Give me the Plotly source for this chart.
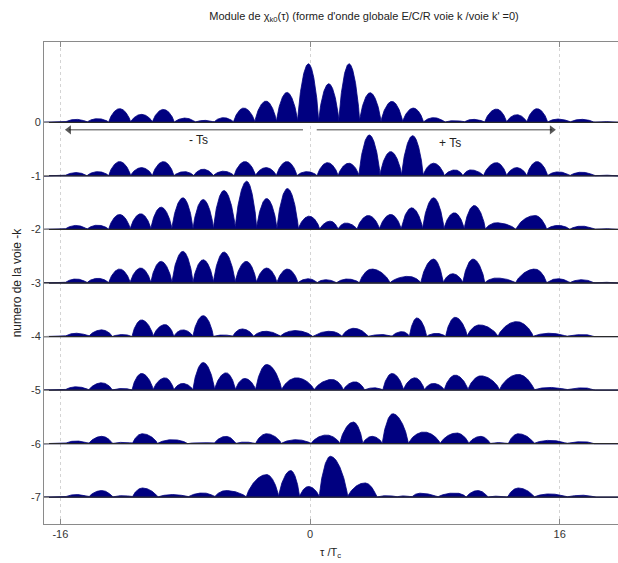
import numpy as np
import plotly.graph_objects as go

# ---- data: lobe peak positions (tau/Tc) and amplitudes for each channel row ----
rows = [0, -1, -2, -3, -4, -5, -6, -7]

tau_r0 = [-15.0, -13.6, -12.2, -10.8, -9.4, -8.0, -6.75, -5.55, -4.25, -2.82, -1.48, -0.1, 1.2, 2.5,
          3.85, 5.25, 6.62, 7.92, 9.3, 10.45, 11.95, 13.25, 14.55, 15.9, 17.4, 19.0]
amp_r0 = [0.056, 0.069, 0.255, 0.149, 0.242, 0.08, 0.037, 0.088, 0.267, 0.397, 0.559, 1.094, 0.721, 1.094,
          0.553, 0.391, 0.267, 0.088, 0.032, 0.056, 0.248, 0.143, 0.255, 0.062, 0.056, 0.013]

tau_r1 = [-15.0, -13.6, -12.2, -10.8, -9.4, -8.05, -6.85, -5.55, -4.17, -2.82, -1.48, -0.2, 1.12, 2.48,
          3.8, 5.17, 6.58, 7.92, 9.3, 10.3, 11.95, 13.25, 14.55, 15.9, 17.4, 19.0]
amp_r1 = [0.062, 0.08, 0.267, 0.155, 0.267, 0.08, 0.125, 0.088, 0.267, 0.155, 0.267, 0.08, 0.248, 0.237,
          0.764, 0.453, 0.751, 0.237, 0.112, 0.112, 0.248, 0.155, 0.267, 0.075, 0.069, 0.013]

tau_r2 = [-15.0, -13.6, -12.2, -10.85, -9.55, -8.15, -6.85, -5.52, -4.06, -2.78, -1.45, -0.05, 1.3, 2.3,
          3.74, 5.17, 6.52, 7.92, 9.25, 10.52, 11.95, 14.42, 15.9, 17.4, 19.0]
amp_r2 = [0.075, 0.08, 0.28, 0.293, 0.416, 0.591, 0.559, 0.727, 0.9, 0.578, 0.764, 0.248, 0.155, 0.12,
          0.261, 0.28, 0.404, 0.591, 0.311, 0.447, 0.125, 0.261, 0.075, 0.062, 0.013]

tau_r3 = [-15.0, -13.6, -12.2, -10.85, -9.55, -8.15, -6.85, -5.52, -4.08, -2.78, -1.45, -0.1, 1.0, 2.4,
          3.95, 6.3, 7.92, 9.15, 10.45, 11.95, 14.42, 15.9, 17.4, 19.0]
amp_r3 = [0.075, 0.088, 0.261, 0.28, 0.404, 0.591, 0.434, 0.578, 0.404, 0.28, 0.261, 0.08, 0.062, 0.075,
          0.261, 0.125, 0.447, 0.173, 0.447, 0.093, 0.261, 0.08, 0.062, 0.013]

tau_r4 = [-15.0, -13.35, -12.0, -10.8, -9.3, -8.15, -6.85, -5.55, -4.35, -2.88, -0.95, 1.3, 2.8, 4.6,
          5.9, 6.85, 8.1, 9.3, 10.85, 13.25, 15.35, 17.5]
amp_r4 = [0.062, 0.125, 0.037, 0.311, 0.224, 0.125, 0.391, 0.03, 0.143, 0.099, 0.112, 0.099, 0.155, 0.037,
          0.093, 0.348, 0.06, 0.36, 0.218, 0.28, 0.062, 0.037]

tau_r5 = [-15.0, -13.35, -12.0, -10.8, -9.3, -8.15, -6.85, -5.38, -4.18, -2.78, -0.86, 1.4, 2.88, 4.1,
          5.25, 6.73, 7.92, 9.3, 10.95, 13.35, 15.35, 17.5]
amp_r5 = [0.062, 0.137, 0.03, 0.311, 0.23, 0.125, 0.516, 0.323, 0.218, 0.479, 0.23, 0.2, 0.155, 0.043,
          0.311, 0.23, 0.125, 0.28, 0.267, 0.293, 0.05, 0.043]

tau_r6 = [-15.0, -13.35, -12.0, -10.75, -8.8, -6.9, -5.38, -4.18, -2.78, -0.9, 1.05, 2.78, 3.98, 5.3,
          7.3, 9.4, 10.95, 12.1, 13.35, 15.35, 17.5]
amp_r6 = [0.05, 0.137, 0.025, 0.186, 0.075, 0.02, 0.137, 0.03, 0.186, 0.075, 0.162, 0.404, 0.137, 0.559,
          0.218, 0.2, 0.137, 0.02, 0.186, 0.062, 0.037]

tau_r7 = [-15.0, -13.35, -12.0, -10.75, -8.8, -6.85, -5.38, -2.78, -1.24, -0.1, 1.3, 3.52, 5.0, 6.0,
          7.05, 9.3, 10.75, 12.0, 13.35, 15.35, 17.5]
amp_r7 = [0.05, 0.125, 0.03, 0.173, 0.05, 0.08, 0.125, 0.423, 0.498, 0.2, 0.764, 0.267, 0.03, 0.025,
          0.075, 0.08, 0.125, 0.02, 0.173, 0.062, 0.037]

row_taus = [tau_r0, tau_r1, tau_r2, tau_r3, tau_r4, tau_r5, tau_r6, tau_r7]
row_amps = [amp_r0, amp_r1, amp_r2, amp_r3, amp_r4, amp_r5, amp_r6, amp_r7]

# -Ts / +Ts arrow extents (tau) and label positions
arrow_minus = [-0.45, -15.45]
arrow_plus = [0.43, 15.5]
arrow_level = -0.14
label_minus = (-7.15, -0.33, "- Ts")
label_plus = (8.95, -0.39, "+ Ts")

x_ticks = [-16, 0, 16]
y_ticks = rows
title_text = "Module de χ<sub>k0</sub>(τ) (forme d'onde globale E/C/R voie k /voie k' =0)"
xlabel = "τ /T<sub>c</sub>"
ylabel = "numero de la voie -k"

X_MIN, X_MAX = -17.05, 19.74
Y_MIN, Y_MAX = -7.5, 1.5

NAVY = "#000080"
FONT = "Liberation Sans, Arial"


def lobe_curve(peaks, amps, x, shape=0.7):
    p = np.asarray(peaks, float)
    a = np.asarray(amps, float)
    mids = (p[:-1] + p[1:]) / 2
    lefts = np.concatenate([[p[0] - 0.7], mids])
    rights = np.concatenate([mids, [p[-1] + 0.7]])
    y = np.zeros_like(x)
    for L, c, R, h in zip(lefts, p, rights, a):
        m = (x >= L) & (x <= c)
        y[m] = np.maximum(y[m], h * np.sin(np.pi / 2 * (x[m] - L) / (c - L)) ** shape)
        m = (x > c) & (x <= R)
        y[m] = np.maximum(y[m], h * np.sin(np.pi / 2 * (R - x[m]) / (R - c)) ** shape)
    return y


xs = np.linspace(X_MIN, X_MAX, 4000)
fig = go.Figure()

for k, taus, amps in zip(rows, row_taus, row_amps):
    yv = k + lobe_curve(taus, amps, xs)
    px = np.concatenate([xs, xs[::-1]])
    py = np.concatenate([yv, np.full_like(xs, k)])
    fig.add_trace(go.Scatter(x=px, y=py, mode="lines", fill="toself", fillcolor=NAVY,
                             line=dict(color=NAVY, width=0.8), hoverinfo="skip", showlegend=False))

for k in rows:
    fig.add_trace(go.Scatter(x=[X_MIN, X_MAX], y=[k, k], mode="lines",
                             line=dict(color="#2a2a2a", width=1.3), hoverinfo="skip", showlegend=False))

# arrows drawn as lines with triangle heads
for ext, sym in ((arrow_minus, "triangle-left"), (arrow_plus, "triangle-right")):
    fig.add_trace(go.Scatter(x=ext, y=[arrow_level, arrow_level], mode="lines+markers",
                             line=dict(color="#444", width=1),
                             marker=dict(symbol=[sym, sym], size=[0, 8], color="#111",
                                         line=dict(width=0)),
                             hoverinfo="skip", showlegend=False))

for lx, ly, lt in (label_minus, label_plus):
    fig.add_annotation(x=lx, y=ly, xref="x", yref="y", text=lt, showarrow=False,
                       font=dict(family=FONT, size=12, color="#222"))

# x axis title
fig.add_annotation(x=(330 - 44) / (618 - 44), y=(524 - 553) / (524 - 42), xref="paper", yref="paper",
                   text=xlabel, showarrow=False, yanchor="middle",
                   font=dict(family=FONT, size=11, color="#222"))
fig.update_layout(
    width=618, height=563,
    margin=dict(l=44, r=0, t=42, b=39),
    paper_bgcolor="white", plot_bgcolor="white",
    font=dict(family=FONT, size=10, color="#333"),
    title=dict(text=title_text, x=(364 - 44) / (618 - 44), xref="paper", xanchor="center",
               y=1 - 16 / 563, yref="container", yanchor="middle",
               font=dict(family=FONT, size=11, color="#222")),
    xaxis=dict(range=[X_MIN, X_MAX], tickvals=x_ticks, ticktext=[str(v) for v in x_ticks],
               showgrid=True, gridcolor="#d4d4d4", griddash="dot", gridwidth=1,
               zeroline=False, showline=True, linecolor="#8a8a8a", linewidth=1, mirror="ticks",
               ticks="inside", ticklen=5, tickcolor="#8a8a8a", tickfont=dict(size=11, color="#333")),
    yaxis=dict(range=[Y_MIN, Y_MAX], tickvals=y_ticks, ticktext=[str(v) for v in y_ticks],
               showgrid=False, zeroline=False, showline=True, linecolor="#8a8a8a", linewidth=1,
               ticks="inside", ticklen=5, tickcolor="#8a8a8a", tickfont=dict(size=11, color="#333"),
               title=dict(text=ylabel, standoff=6, font=dict(size=12, color="#222"))),
)

fig.write_html("out.html")
